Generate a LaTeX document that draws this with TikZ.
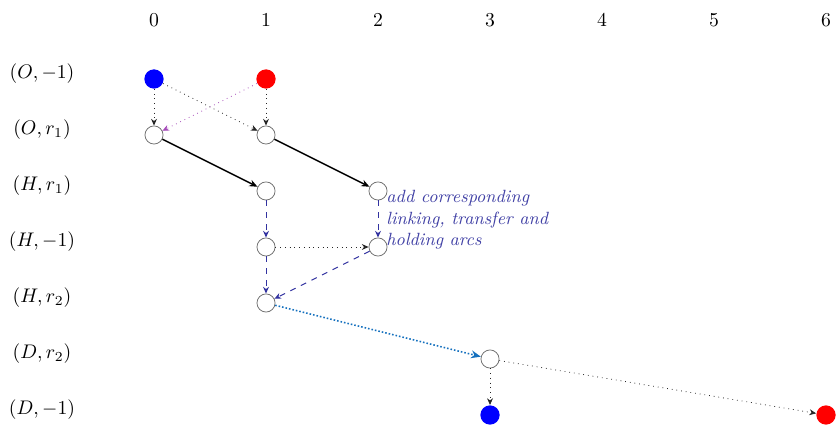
\documentclass[tikz,border=0pt]{standalone}
\usetikzlibrary{arrows.meta}
\definecolor{dashc}{RGB}{50,50,160}
\definecolor{txtc}{RGB}{65,65,165}
\definecolor{violc}{RGB}{165,75,185}
\definecolor{bluec}{RGB}{20,112,190}
\begin{document}
\begin{tikzpicture}[x=0.508pt,y=-0.508pt,
  emptyn/.style={circle,draw=black!55,fill=white,line width=0.4pt,inner sep=0pt,minimum size=9.2pt},
  bluen/.style={circle,fill=blue,inner sep=0pt,minimum size=9.8pt},
  redn/.style={circle,fill=red,inner sep=0pt,minimum size=9.8pt},
  dotarc/.style={dotted,draw=black!85,line width=0.4pt,-{Stealth[length=3.4pt,width=3pt]}},
  violarc/.style={dotarc,draw=violc},
  solidarc/.style={line width=0.7pt,-{Stealth[length=4.2pt,width=3.4pt]}},
  dasharc/.style={dashed,draw=dashc,line width=0.5pt,-{Stealth[length=3.4pt,width=3pt]}},
  bluearc/.style={densely dotted,draw=bluec,line width=0.8pt,-{Stealth[length=5pt,width=4pt]}},
  hdr/.style={inner sep=0pt},
  rowlab/.style={inner sep=0pt}]
\useasboundingbox (0,0) rectangle (837,427);
% headers
\foreach \i in {0,...,6} \node[hdr] (h\i) at (154+112*\i,20) {\i};
% row labels
\node[rowlab] (l1) at (42,74) {$(O,-1)$};
\node[rowlab] (l2) at (42,130) {$(O,r_1)$};
\node[rowlab] (l3) at (42,186) {$(H,r_1)$};
\node[rowlab] (l4) at (42,242) {$(H,-1)$};
\node[rowlab] (l5) at (42,298) {$(H,r_2)$};
\node[rowlab] (l6) at (42,354) {$(D,r_2)$};
\node[rowlab] (l7) at (42,410) {$(D,-1)$};
% nodes
\node[bluen] (b0) at (154,79) {};
\node[redn] (r1) at (266,79) {};
\node[emptyn] (o0) at (154,135) {};
\node[emptyn] (o1) at (266,135) {};
\node[emptyn] (hr1) at (266,191) {};
\node[emptyn] (hr2) at (378,191) {};
\node[emptyn] (hm1) at (266,247) {};
\node[emptyn] (hm2) at (378,247) {};
\node[emptyn] (hrr) at (266,303) {};
\node[emptyn] (dr) at (490,359) {};
\node[bluen] (db) at (490,415) {};
\node[redn] (drd) at (826,415) {};
% arcs
\draw[dotarc] (b0) -- (o0);
\draw[dotarc] (b0) -- (o1);
\draw[violarc] (r1) -- (o0);
\draw[dotarc] (r1) -- (o1);
\draw[solidarc] (o0) -- (hr1);
\draw[solidarc] (o1) -- (hr2);
\draw[dasharc] (hr1) -- (hm1);
\draw[dasharc] (hr2) -- (hm2);
\draw[dotarc] (hm1) -- (hm2);
\draw[dasharc] (hm1) -- (hrr);
\draw[dasharc] (hm2) -- (hrr);
\draw[bluearc] (hrr) -- (dr);
\draw[dotarc] (dr) -- (db);
\draw[dotarc] (dr) -- (drd);
% annotation
\node[anchor=north west,inner sep=0pt,align=left,text=txtc,font=\fontsize{9}{10.9}\selectfont\itshape] (note) at (386,190)
  {add corresponding\\ linking, transfer and\\ holding arcs};
\end{tikzpicture}
\end{document}
